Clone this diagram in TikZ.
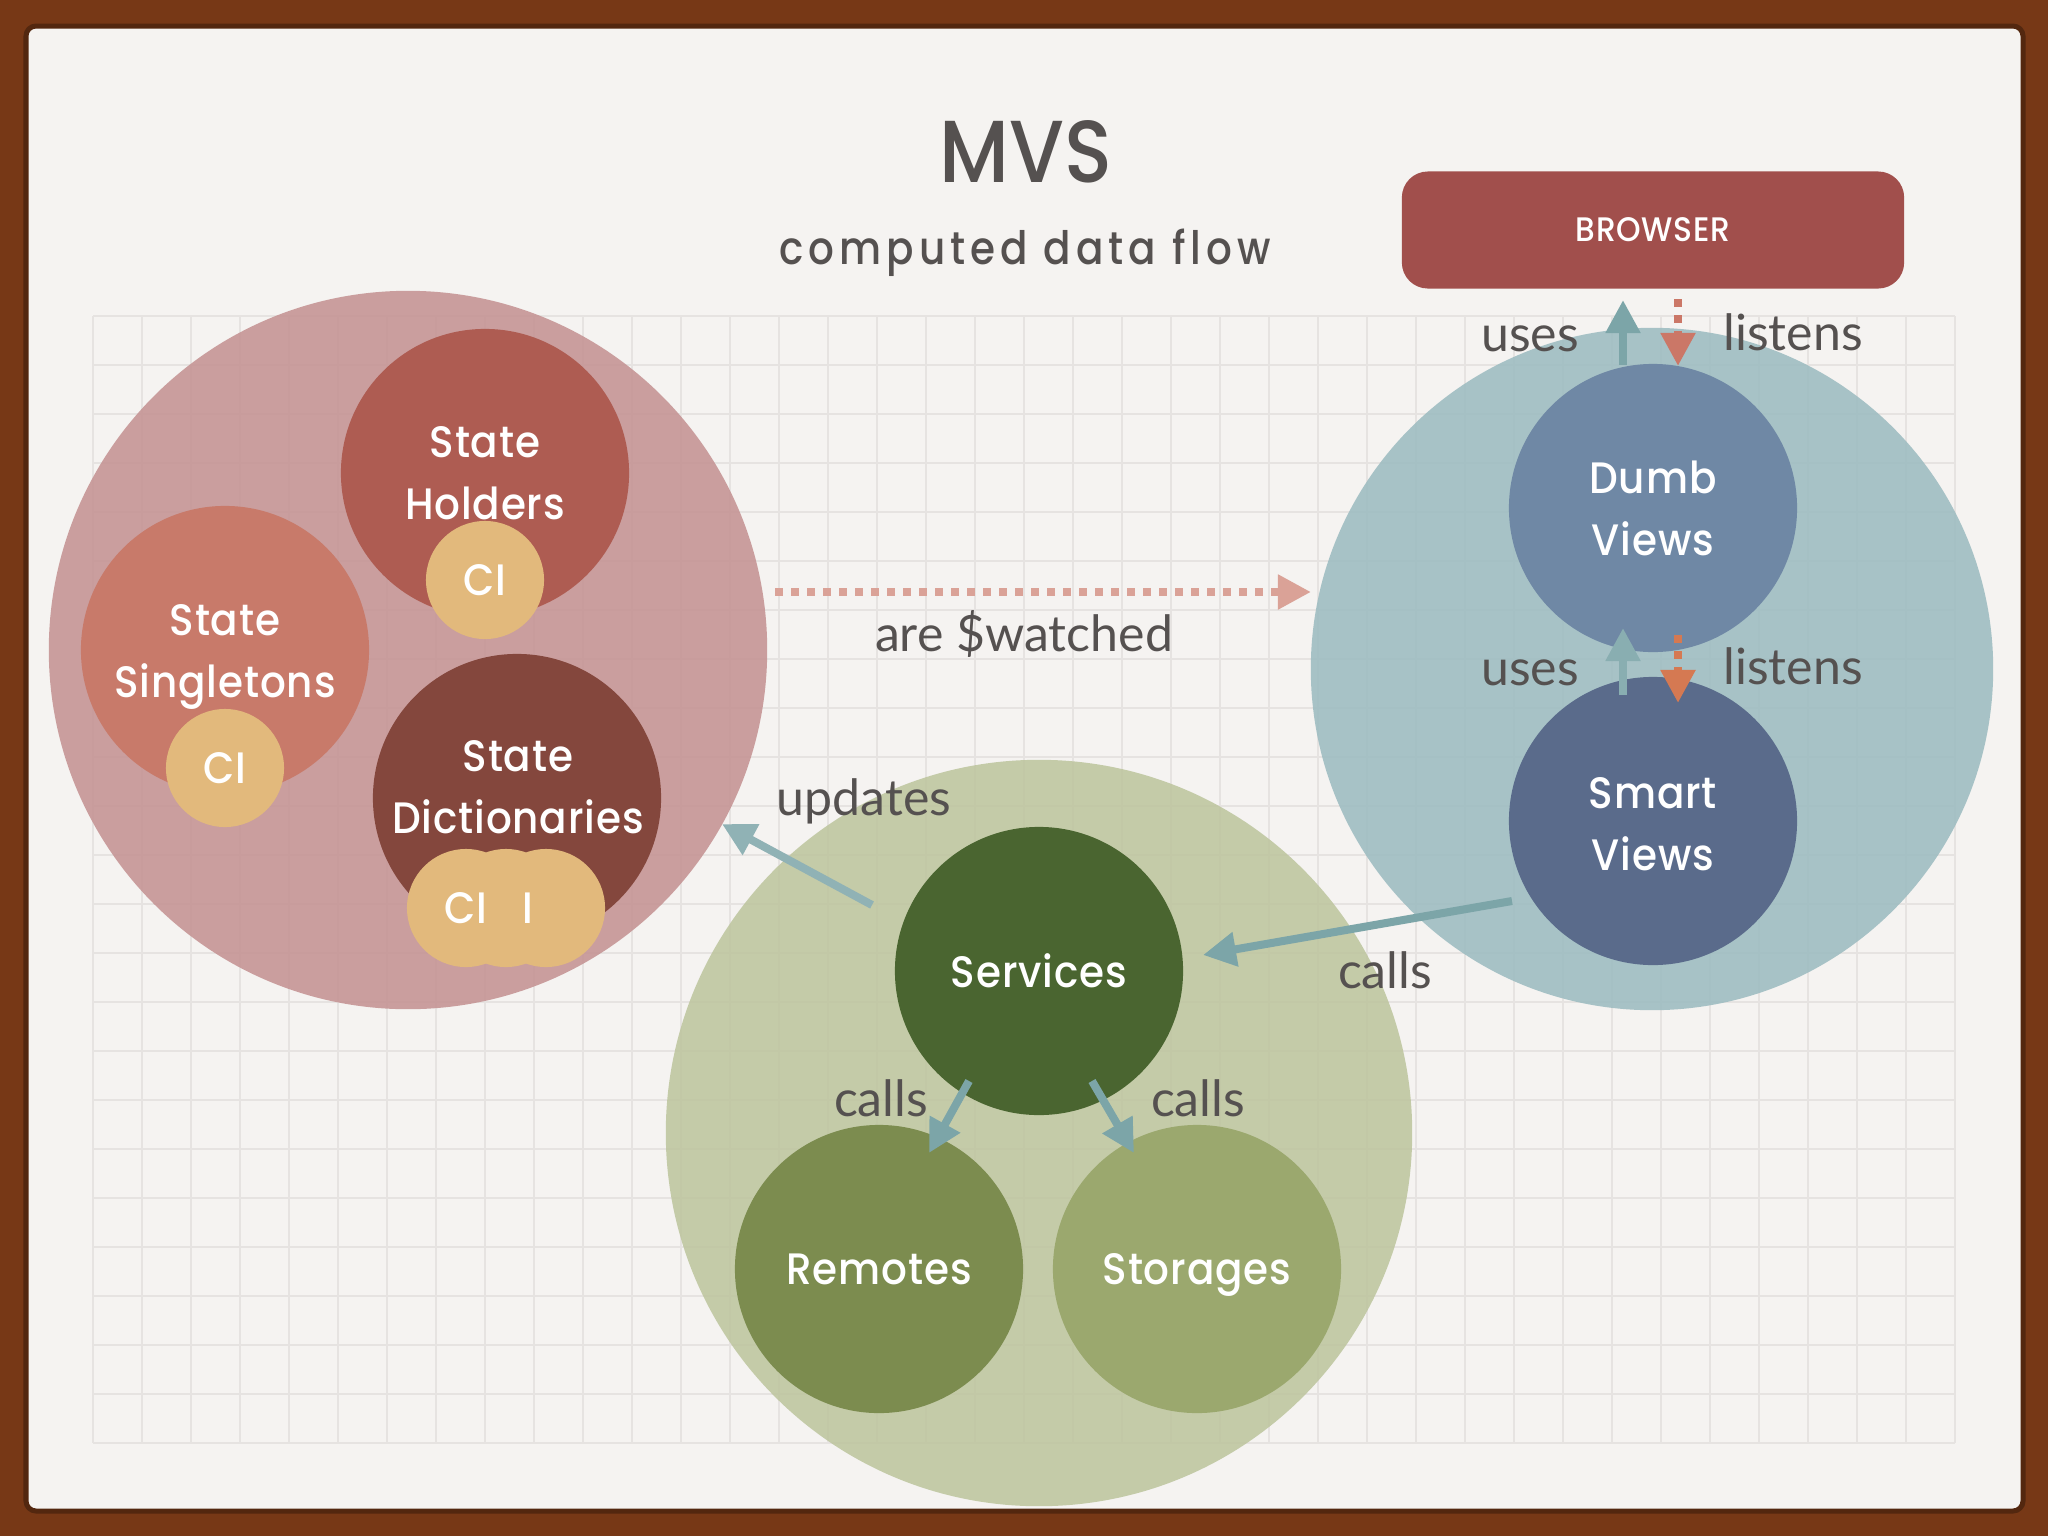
\documentclass[tikz,border=0pt]{standalone}
\usepackage{fontspec}
\setmainfont{Lato}
\newfontfamily\headfont[FakeStretch=0.9]{Poppins Medium}
\newfontfamily\spacedfont[LetterSpace=11,FakeStretch=0.88]{Poppins Medium}
\newfontfamily\nodefont[LetterSpace=2,FakeStretch=0.92]{Poppins Medium}
\usetikzlibrary{arrows.meta}
\newcommand{\px}[1]{\fontsize{\fpeval{#1*0.2845}}{\fpeval{62*0.2845}}\selectfont}
\definecolor{frame}{HTML}{773816}
\definecolor{paper}{HTML}{F5F3F1}
\definecolor{gridc}{HTML}{E6E3E1}
\definecolor{ink}{HTML}{555150}
\definecolor{pinkbig}{HTML}{C39090}
\definecolor{bluebig}{HTML}{9ABABF}
\definecolor{greenbig}{HTML}{BCC49C}
\definecolor{holders}{HTML}{AE5C52}
\definecolor{singletons}{HTML}{C87A6A}
\definecolor{dicts}{HTML}{84473D}
\definecolor{ci}{HTML}{E2B97C}
\definecolor{dumb}{HTML}{6F88A5}
\definecolor{smart}{HTML}{5A6B8B}
\definecolor{services}{HTML}{4A6530}
\definecolor{remotes}{HTML}{7C8C4F}
\definecolor{storages}{HTML}{9BA86E}
\definecolor{browser}{HTML}{A14F4C}
\definecolor{tealarrow}{HTML}{7CA5A8}
\definecolor{salmon}{HTML}{CB7767}
\tikzset{
  x=0.01cm,y=-0.01cm,
  big/.style={circle,inner sep=0pt,minimum size=#1,fill opacity=.85},
  ball/.style={circle,inner sep=0pt,minimum size=2.88cm,text=white,align=center,font=\nodefont\px{44}},
  cibox/.style={circle,inner sep=0pt,minimum size=1.18cm,fill=ci,text=white,font=\nodefont\px{44}},
  lab/.style={text=ink,inner sep=0pt,font=\px{50}},
  white text/.style={text=white,inner sep=0pt,font=\nodefont\px{44},align=center},
  solidarrow/.style={line width=0.08cm,-{Triangle[length=0.33cm,width=0.33cm]}},
  dotarrow/.style={line width=0.08cm,dash pattern=on 0.08cm off 0.08cm,-{Triangle[length=0.33cm,width=0.33cm]}}
}
\begin{document}
\begin{tikzpicture}
\useasboundingbox (0,0) rectangle (2048,1536);
\fill[frame] (0,0) rectangle (2048,1536);
\draw[frame!70!black,line width=0.05cm,fill=paper,rounded corners=0.1cm] (26,26) rectangle (2023,1511);
% grid
\foreach \xx in {0,...,38} \draw[gridc,line width=0.02cm] ({93+\xx*49},316) -- ({93+\xx*49},1443);
\foreach \yy in {0,...,23} \draw[gridc,line width=0.02cm] (93,{316+\yy*49}) -- (1955,{316+\yy*49});
% large circles
\node[big=7.18cm,fill=pinkbig] (pinkc) at (408,650) {};
\node[big=6.82cm,fill=bluebig] (bluec) at (1652,669) {};
\node[big=7.46cm,fill=greenbig] (greenc) at (1039,1133) {};
% title
\node[text=ink,inner sep=0pt,font=\headfont\px{88}] (title) at (1026,152) {MVS};
\node[text=ink,inner sep=0pt,font=\spacedfont\px{46}] (subtitle) at (1025,253) {computed data flow};
% browser
\node[fill=browser,rounded corners=0.26cm,minimum width=5.02cm,minimum height=1.17cm,inner sep=0pt,text=white,font=\nodefont\px{34}] (browserbox) at (1653,230) {BROWSER};
% balls
\node[ball,fill=holders] (holdersc) at (485,473) {State\\Holders};
\node[cibox] (ci1) at (485,580) {CI};
\node[ball,fill=singletons] (singletonsc) at (225,650) {};
\node[white text] (singletonslabel) at (225,657) {State\\Singletons};
\node[cibox] (ci2) at (225,768) {CI};
\node[ball,fill=dicts] (dictsc) at (517,798) {};
\node[white text] (dictslabel) at (518,787) {State\\Dictionaries};
\node[cibox] (ci3c) at (546,908) {};
\node[cibox] (ci3b) at (506,908) {};
\node[cibox] (ci3a) at (466,908) {};
\node[white text] (ci3t) at (466,908) {CI};
\node[white text] (ci3u) at (528,908) {I};
\node[ball,fill=dumb] (dumbc) at (1653,508) {Dumb\\Views};
\node[ball,fill=smart] (smartc) at (1653,821) {};
\node[white text] (smartlabel) at (1653,824) {Smart\\Views};
\node[ball,fill=services] (servicesc) at (1039,971) {Services};
\node[ball,fill=remotes] (remotesc) at (879,1269) {Remotes};
\node[ball,fill=storages,text depth=0pt] (storagesc) at (1197,1269) {Storages};
% arrow ends
\coordinate (w1) at (775,592); \coordinate (w2) at (1311,592);
\coordinate (u1) at (1623,365); \coordinate (u2) at (1623,300);
\coordinate (l1) at (1678,299); \coordinate (l2) at (1678,366);
\coordinate (u3) at (1623,695); \coordinate (u4) at (1623,628);
\coordinate (l3) at (1678,635); \coordinate (l4) at (1678,703);
\coordinate (p1) at (872,905); \coordinate (p2) at (722,824);
\coordinate (c1) at (1512,901); \coordinate (c2) at (1203,955);
\coordinate (c3) at (969,1081); \coordinate (c4) at (929,1153);
\coordinate (c5) at (1092,1081); \coordinate (c6) at (1134,1153);
% arrows
\draw[dotarrow,color=salmon!65!paper] (w1) -- (w2);
\draw[solidarrow,color=tealarrow] (u1) -- (u2);
\draw[dotarrow,color=salmon] (l1) -- (l2);
\draw[solidarrow,color=tealarrow!90!white] (u3) -- (u4);
\draw[dotarrow,color=salmon!80!orange] (l3) -- (l4);
\draw[solidarrow,color=tealarrow!85!white] (p1) -- (p2);
\draw[solidarrow,color=tealarrow] (c1) -- (c2);
\draw[solidarrow,color=tealarrow] (c3) -- (c4);
\draw[solidarrow,color=tealarrow] (c5) -- (c6);
% labels
\node[lab] (lu1) at (1530,339) {uses};
\node[lab] (ll1) at (1793,332) {listens};
\node[lab] (lu2) at (1530,673) {uses};
\node[lab] (ll2) at (1793,666) {listens};
\node[lab] (lw) at (1024,634) {are \$watched};
\node[lab] (lup) at (864,801) {updates};
\node[lab] (lc1) at (1385,970) {calls};
\node[lab] (lc2) at (881,1098) {calls};
\node[lab] (lc3) at (1198,1098) {calls};
\end{tikzpicture}
\end{document}
